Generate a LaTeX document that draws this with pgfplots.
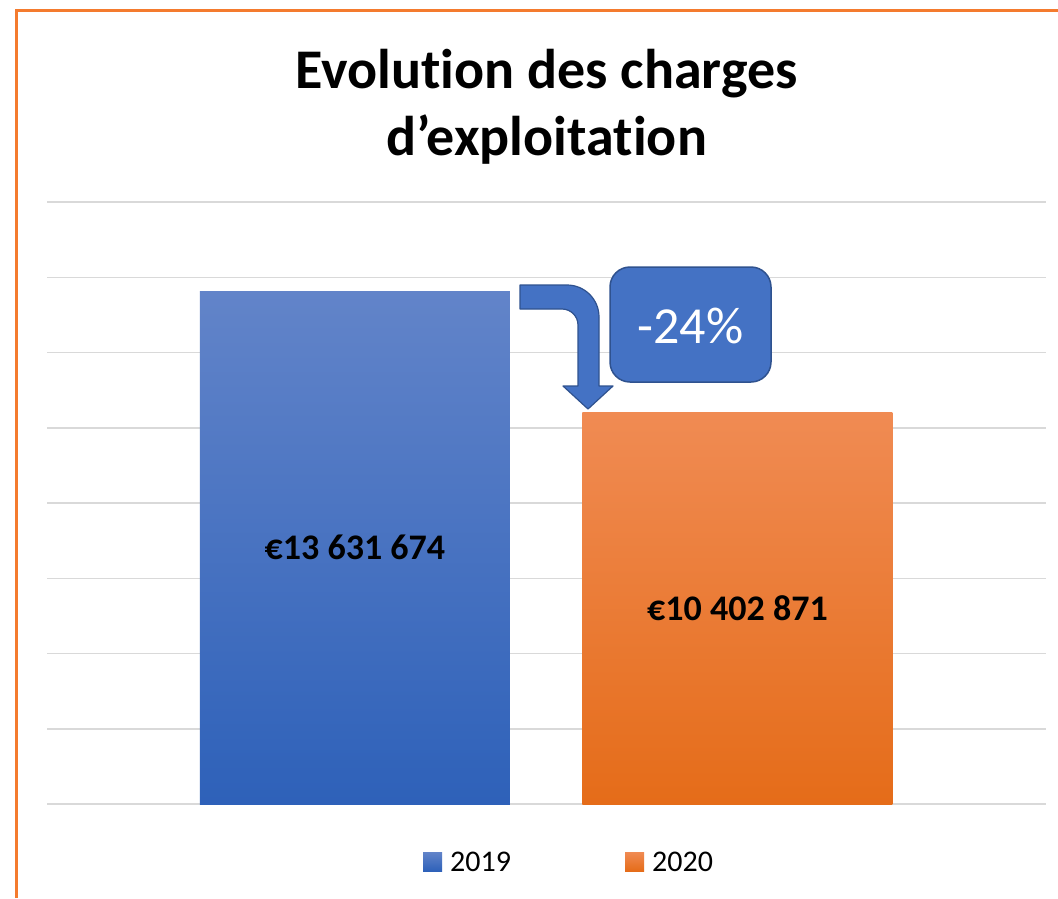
\documentclass[border=0pt]{standalone}
\usepackage{pgfplots}
\pgfplotsset{compat=1.18}
\usepackage{fontspec}
\setmainfont{Carlito}[Ligatures=NoCommon]
\definecolor{blueTop}{HTML}{6284C9}
\definecolor{blueBot}{HTML}{2E61B9}
\definecolor{orTop}{HTML}{F08B53}
\definecolor{orBot}{HTML}{E56C19}
\definecolor{accent}{HTML}{4472C4}
\definecolor{accentDark}{HTML}{2F528F}
\definecolor{frameOr}{HTML}{F47B2E}
\definecolor{gridc}{HTML}{D9D9D9}
\begin{document}
\begin{tikzpicture}[x=1pt,y=-1pt]
\useasboundingbox (0,0) rectangle (1058,898);
\fill[white] (0,0) rectangle (1058,898);
% frame
\draw[frameOr, line width=2.5pt] (16.5,898) -- (16.5,10.5) -- (1058,10.5);
% title
\node[anchor=base, font=\fontsize{56}{67}\selectfont\bfseries, inner sep=0pt] at (546.5,88) {Evolution des charges};
\node[anchor=base, font=\fontsize{56}{67}\selectfont\bfseries, inner sep=0pt] at (546.5,155) {d’exploitation};
\begin{axis}[
  at={(47pt,-804pt)}, anchor=south west,
  width=999pt, height=602pt, scale only axis,
  xmin=-0.805, xmax=1.8065,
  ymin=0, ymax=16000000,
  ytick={0,2000000,4000000,6000000,8000000,10000000,12000000,14000000,16000000},
  scaled y ticks=false,
  yticklabels={}, xtick=\empty,
  ymajorgrids, grid style={gridc, line width=1.5pt},
  major tick length=0pt,
  axis line style={draw=none},
  ybar, bar width=310pt,
  clip=false,
]
\addplot[draw=none, top color=blueTop, bottom color=blueBot, bar shift=0pt] coordinates {(0,13631674)};
\addplot[draw=none, top color=orTop, bottom color=orBot, bar shift=0pt] coordinates {(1,10402871)};
\node[font=\fontsize{36}{40}\selectfont\bfseries, inner sep=0pt] at (axis cs:0,6815837) {€13 631 674};
\node[font=\fontsize{36}{40}\selectfont\bfseries, inner sep=0pt] at (axis cs:1,5201435) {€10 402 871};
\end{axis}
% bent arrow
\draw[fill=accent, draw=accentDark, line width=1.2pt, line join=round]
  (520,285) -- (567,285) .. controls (584.7,285) and (599,299.3) .. (599,317)
  -- (599,386) -- (613,386) -- (588,409) -- (563,386) -- (578,386)
  -- (578,325) .. controls (578,316.2) and (570.8,309) .. (562,309)
  -- (520,309) -- cycle;
% callout
\draw[fill=accent, draw=accentDark, line width=1.5pt, rounded corners=20pt] (610,267) rectangle (771,382);
\node[anchor=base, text=white, font=\fontsize{52}{60}\selectfont, inner sep=0pt] at (690.5,343) {-24\%};
% legend
\shade[top color=blueTop, bottom color=blueBot] (423,852) rectangle (442,871);
\node[anchor=base west, font=\fontsize{30}{36}\selectfont, inner sep=0pt] at (450,871) {2019};
\shade[top color=orTop, bottom color=orBot] (625,852) rectangle (644,871);
\node[anchor=base west, font=\fontsize{30}{36}\selectfont, inner sep=0pt] at (652,871) {2020};
\end{tikzpicture}
\end{document}
